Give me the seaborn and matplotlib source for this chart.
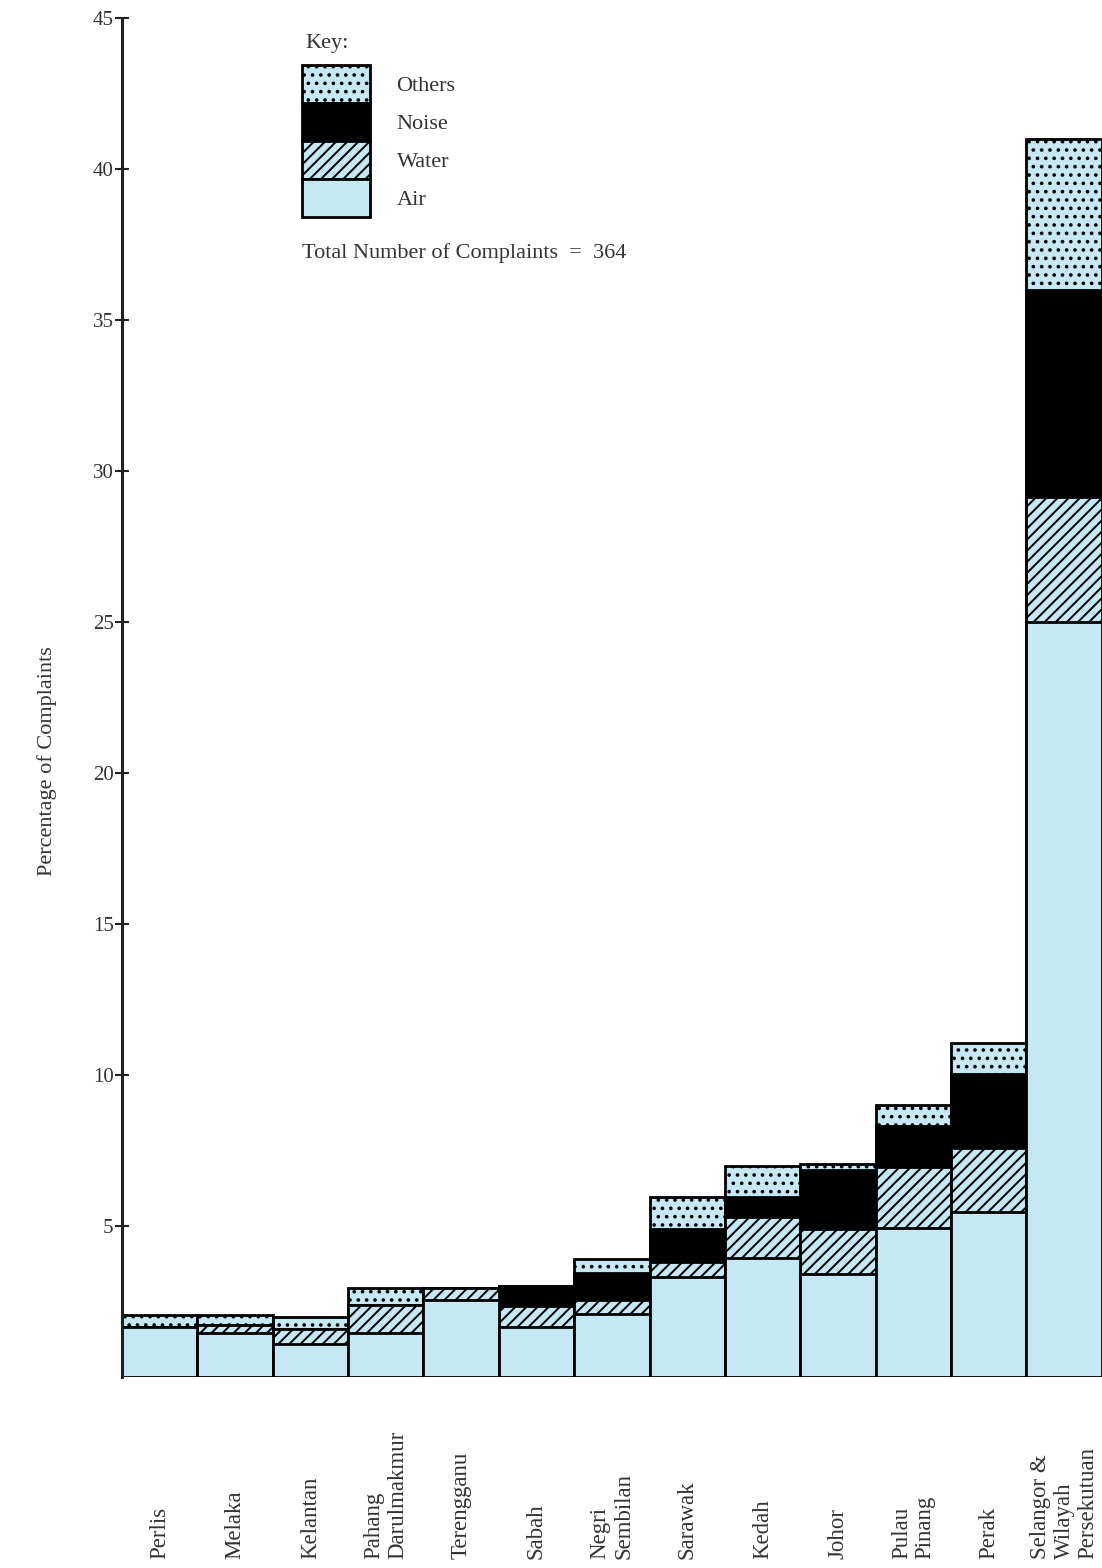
import matplotlib
matplotlib.use("Agg")
import matplotlib.pyplot as plt
import matplotlib.transforms as mtransforms
from matplotlib.patches import Patch
import numpy as np
import seaborn as sns

# ---- data ----
categories = ["Perlis", "Melaka", "Kelantan", "Pahang\nDarulmakmur", "Terengganu",
              "Sabah", "Negri\nSembilan", "Sarawak", "Kedah", "Johor",
              "Pulau\nPinang", "Perak", "Selangor &\nWilayah\nPersekutuan"]
air = [1.65, 1.45, 1.1, 1.45, 2.55, 1.65, 2.1, 3.3, 3.95, 3.4, 4.95, 5.45, 25.0]
water = [0.0, 0.27, 0.5, 0.95, 0.4, 0.7, 0.45, 0.5, 1.35, 1.5, 2.0, 2.15, 4.15]
noise = [0.0, 0.0, 0.0, 0.0, 0.0, 0.65, 0.9, 1.1, 0.65, 1.95, 1.35, 2.45, 6.85]
others = [0.4, 0.33, 0.4, 0.55, 0.0, 0.0, 0.45, 1.05, 1.05, 0.2, 0.7, 1.0, 5.0]
yticks = [5, 10, 15, 20, 25, 30, 35, 40, 45]
total_text = "Total Number of Complaints  =  364"

# ---- style ----
sns.set_theme(style="white")
plt.rcParams['font.family'] = ['Liberation Serif', 'DejaVu Serif']
plt.rcParams['hatch.linewidth'] = 1.4
plt.rcParams['hatch.color'] = 'black'

LIGHT = '#c6e7f4'
EDGE_LW = 2.0
FS = 16
FS_TICK = 15
FS_X = 16.5
TXT = '#333333'

fig = plt.figure(figsize=(11.02, 15.68), dpi=100)
ax = fig.add_axes([0.1107, 0.1218, 0.889, 0.8667])

a = np.array(air)
w = np.array(water)
n = np.array(noise)
o = np.array(others)

DOTS = '..'
LINES = '///'
layers = [
    (a + w + n + o, dict(color=LIGHT, hatch=DOTS)),   # Others (top)
    (a + w + n, dict(color='black')),                 # Noise
    (a + w, dict(color=LIGHT, hatch=LINES)),          # Water
    (a, dict(color=LIGHT)),                           # Air
]
for vals, kw in layers:
    sns.barplot(x=categories, y=vals, ax=ax, width=1.0, saturation=1,
                edgecolor='black', linewidth=EDGE_LW, errorbar=None, **kw)

ax.set_xlim(-0.5, 12.5)
ax.set_ylim(0, 45)
for s in ['top', 'right', 'bottom']:
    ax.spines[s].set_visible(False)
ax.spines['left'].set_linewidth(2.2)
ax.spines['left'].set_color('#222222')

ax.set_yticks(yticks)
ax.set_yticklabels([str(t) for t in yticks], fontsize=FS_TICK, color=TXT)
ax.tick_params(axis='y', direction='inout', length=10, width=1.5, pad=1, left=True,
               color='#222222')
ax.set_xticks([])
ax.set_xlabel('')
ax.set_ylabel('Percentage of Complaints', fontsize=FS, color=TXT)
ax.yaxis.set_label_coords(-0.066, 0.453)

# category labels, rotated and bottom-aligned
trans = mtransforms.blended_transform_factory(ax.transData, fig.transFigure)
for i, cat in enumerate(categories):
    ax.text(i, 0.006, cat, transform=trans, rotation=90, ha='center', va='bottom',
            multialignment='left', fontsize=FS_X, color=TXT, linespacing=1.15)

# key
handles = [
    Patch(facecolor=LIGHT, edgecolor='black', hatch=DOTS, linewidth=EDGE_LW),
    Patch(facecolor='black', edgecolor='black', linewidth=EDGE_LW),
    Patch(facecolor=LIGHT, edgecolor='black', hatch=LINES, linewidth=EDGE_LW),
    Patch(facecolor=LIGHT, edgecolor='black', linewidth=EDGE_LW),
]
labels = ['Others', 'Noise', 'Water', 'Air']
leg = ax.legend(handles, labels, loc='upper left', bbox_to_anchor=(0.1837, 0.9654),
                frameon=False, fontsize=FS, handlelength=3.06, handleheight=2.255,
                handletextpad=1.2, labelspacing=0.0, borderpad=0.0, borderaxespad=0.0)
for t in leg.get_texts():
    t.set_color(TXT)
ax.text(0.187, 0.981, 'Key:', transform=ax.transAxes, fontsize=FS, va='center',
        ha='left', color=TXT)
ax.text(0.1837, 0.827, total_text, transform=ax.transAxes, fontsize=FS, va='center',
        ha='left', color=TXT)

fig.savefig('out.png', dpi=100, facecolor='white')
